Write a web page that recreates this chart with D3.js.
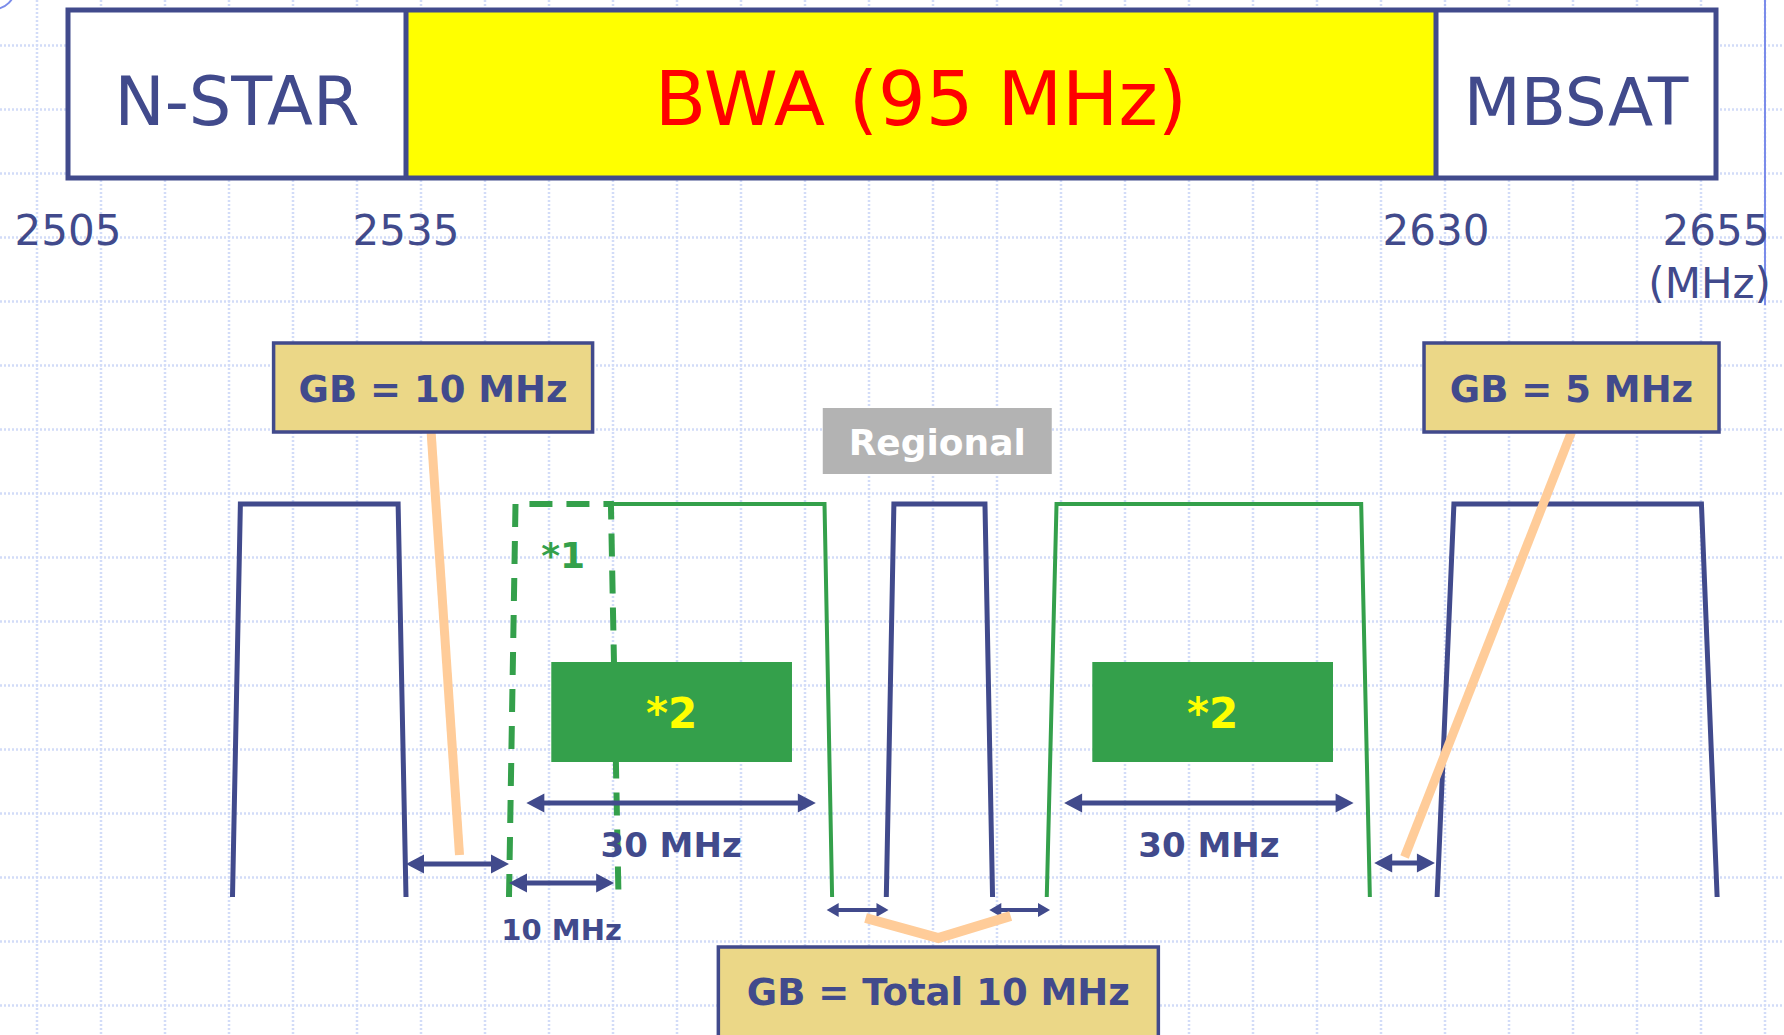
<!DOCTYPE html>
<html>
<head>
<meta charset="utf-8">
<script src="https://cdn.jsdelivr.net/npm/d3@7"></script>
<style>
  html, body { margin: 0; padding: 0; background: #fff; }
  svg { display: block; font-family: "DejaVu Sans", Verdana, sans-serif; }
</style>
</head>
<body>
<svg id="chart"></svg>
<script>
// band plan (MHz)
const bandEdges = [2505, 2535, 2630, 2655];
const bandNames = ["N-STAR", "BWA (95 MHz)", "MBSAT"];
const tickLabels = ["2505", "2535", "2630", "2655"];
const unitLabel = "(MHz)";

// filter masks: bottom-lo, top-lo, top-hi, bottom-hi (MHz)
const filterNames = ["N-STAR", "*1", "BWA 1", "Regional", "BWA 2", "MBSAT"];
const filterEdges = [
  [2519.6, 2520.3, 2534.3, 2535.0],
  [2544.5, 2545.1, 2553.9, 2554.6],
  [2553.9, 2553.9, 2573.6, 2574.3],
  [2579.3, 2580.0, 2588.4, 2589.1],
  [2594.1, 2595.0, 2623.1, 2623.9],
  [2630.1, 2631.6, 2653.7, 2655.1]
];
const filterKinds = ["navy", "dashed", "open", "navy", "green", "navy"];

// dimension arrows (MHz)
const spanNames = ["GB 10", "10 MHz", "30 MHz", "30 MHz", "GB a", "GB b", "GB 5"];
const spanFrom = [2535.0, 2544.5, 2546.1, 2595.7, 2573.8, 2588.8, 2624.3];
const spanTo   = [2544.5, 2554.2, 2572.8, 2622.4, 2579.5, 2594.4, 2629.9];
const spanText = ["", "10 MHz", "30 MHz", "30 MHz", "", "", ""];

// green "*2" blocks (MHz)
const blockFrom = [2548.4, 2598.3];
const blockTo = [2570.6, 2620.5];
const blockText = "*2";

// callouts
const calloutText = ["GB = 10 MHz", "GB = 5 MHz", "GB = Total 10 MHz"];
const calloutAt = [2537.5, 2642.1, 2584.1];
const regionalText = "Regional";
const regionalAt = 2584.0;

const W = 1784, H = 1035;
const navy = "#414a8c", green = "#34a04b", peach = "#ffcc99";

const svg = d3.select("#chart").attr("width", W).attr("height", H);

const x = d3.scaleLinear().domain(bandEdges).range([68, 406, 1436, 1716]);
const y = d3.scaleLinear().domain([0, 1]).range([897, 504]);

// background grid
const grid = svg.append("g").attr("stroke", "#d2dcf8").attr("stroke-width", 2.5).attr("stroke-dasharray", "2,2");
grid.selectAll("line.v").data(d3.range(37, W, 64)).join("line").attr("class", "v")
  .attr("x1", d => d).attr("x2", d => d).attr("y1", 0).attr("y2", H);
grid.selectAll("line.h").data(d3.range(45.5, H, 64)).join("line").attr("class", "h")
  .attr("x1", 0).attr("x2", W).attr("y1", d => d).attr("y2", d => d);

// slide decorations
svg.append("line").attr("x1", 1765).attr("x2", 1765).attr("y1", 0).attr("y2", 305)
  .attr("stroke", "#7b8cea").attr("stroke-width", 2);
svg.append("circle").attr("cx", -6).attr("cy", -12).attr("r", 21)
  .attr("fill", "none").attr("stroke", "#7b8cea").attr("stroke-width", 2);

// top band plan
const bandTop = 10, bandBot = 178;
const bands = svg.append("g");
bands.selectAll("rect").data(bandNames).join("rect")
  .attr("x", (d, i) => x(bandEdges[i]))
  .attr("width", (d, i) => x(bandEdges[i + 1]) - x(bandEdges[i]))
  .attr("y", bandTop).attr("height", bandBot - bandTop)
  .attr("fill", (d, i) => i === 1 ? "#ffff00" : "#fff");
bands.append("rect")
  .attr("x", x(bandEdges[0])).attr("y", bandTop)
  .attr("width", x(bandEdges[3]) - x(bandEdges[0])).attr("height", bandBot - bandTop)
  .attr("fill", "none").attr("stroke", navy).attr("stroke-width", 5);
bands.selectAll("line").data(bandEdges.slice(1, 3)).join("line")
  .attr("x1", d => x(d)).attr("x2", d => x(d)).attr("y1", bandTop).attr("y2", bandBot)
  .attr("stroke", navy).attr("stroke-width", 5);
const bandSize = [67, 75, 66];
bands.selectAll("text").data(bandNames).join("text")
  .attr("x", (d, i) => (x(bandEdges[i]) + x(bandEdges[i + 1])) / 2)
  .attr("y", 125).attr("text-anchor", "middle")
  .attr("font-size", (d, i) => bandSize[i])
  .attr("fill", (d, i) => i === 1 ? "#ff0000" : navy)
  .text(d => d);

// frequency ticks
svg.append("g").selectAll("text").data(tickLabels).join("text")
  .attr("x", (d, i) => x(bandEdges[i])).attr("y", 245)
  .attr("text-anchor", "middle").attr("font-size", 42).attr("fill", navy)
  .text(d => d);
svg.append("text").attr("x", x(2655) + 55).attr("y", 298)
  .attr("text-anchor", "end").attr("font-size", 42).attr("fill", navy)
  .text(unitLabel);

// filter masks
const maskPath = (e, kind) => {
  const p = d3.path();
  if (kind === "open") {
    p.moveTo(x(e[1]), y(1));
  } else {
    p.moveTo(x(e[0]), y(0));
    p.lineTo(x(e[1]), y(1));
  }
  p.lineTo(x(e[2]), y(1));
  p.lineTo(x(e[3]), y(0));
  return p.toString();
};
svg.append("g").selectAll("path").data(filterEdges).join("path")
  .attr("d", (d, i) => maskPath(d, filterKinds[i]))
  .attr("fill", "none")
  .attr("stroke", (d, i) => filterKinds[i] === "navy" ? navy : green)
  .attr("stroke-width", (d, i) => filterKinds[i] === "navy" ? 5 : filterKinds[i] === "dashed" ? 6 : 4)
  .attr("stroke-dasharray", (d, i) => filterKinds[i] === "dashed" ? "23,14" : null)
  .attr("stroke-linejoin", "miter");

// "*1" label
svg.append("text").attr("x", (x(filterEdges[1][1]) + x(filterEdges[1][2])) / 2).attr("y", 568)
  .attr("text-anchor", "middle").attr("font-size", 36).attr("font-weight", "bold")
  .attr("fill", green).text(filterNames[1]);

// "*2" blocks
const blocks = svg.append("g");
blocks.selectAll("rect").data(blockFrom).join("rect")
  .attr("x", (d) => x(d)).attr("width", (d, i) => x(blockTo[i]) - x(d))
  .attr("y", 662).attr("height", 100).attr("fill", green);
blocks.selectAll("text").data(blockFrom).join("text")
  .attr("x", (d, i) => (x(d) + x(blockTo[i])) / 2).attr("y", 728)
  .attr("text-anchor", "middle").attr("font-size", 42).attr("font-weight", "bold")
  .attr("fill", "#ffff00").text(blockText);

// dimension arrows
const spanY = [864, 883, 803, 803, 910, 910, 863];
const small = [false, false, false, false, true, true, false];
const arrowPath = (x1, x2, yy, L, h, w) => {
  const p = d3.path();
  p.moveTo(x1, yy);
  p.lineTo(x1 + L, yy - h); p.lineTo(x1 + L, yy - w / 2);
  p.lineTo(x2 - L, yy - w / 2); p.lineTo(x2 - L, yy - h);
  p.lineTo(x2, yy);
  p.lineTo(x2 - L, yy + h); p.lineTo(x2 - L, yy + w / 2);
  p.lineTo(x1 + L, yy + w / 2); p.lineTo(x1 + L, yy + h);
  p.closePath();
  return p.toString();
};
const arrows = svg.append("g");
arrows.selectAll("path").data(spanNames).join("path")
  .attr("d", (d, i) => small[i]
    ? arrowPath(x(spanFrom[i]), x(spanTo[i]), spanY[i], 12, 7, 4)
    : arrowPath(x(spanFrom[i]), x(spanTo[i]), spanY[i], 18, 9.5, 5))
  .attr("fill", navy);
const spanLabelY = [0, 940, 857, 857, 0, 0, 0];
const spanLabelSize = [0, 29, 34, 34, 0, 0, 0];
const labelled = d3.range(spanText.length).filter(i => spanText[i]);
arrows.selectAll("text").data(labelled).join("text")
  .attr("x", i => (x(spanFrom[i]) + x(spanTo[i])) / 2)
  .attr("y", i => spanLabelY[i])
  .attr("text-anchor", "middle").attr("font-weight", "bold")
  .attr("font-size", i => spanLabelSize[i])
  .attr("fill", navy).text(i => spanText[i]);

// leader lines
const mid = i => (x(spanFrom[i]) + x(spanTo[i])) / 2;
const leaders = svg.append("g").attr("stroke", peach).attr("stroke-width", 9).attr("fill", "none");
leaders.append("line")
  .attr("x1", x(calloutAt[0]) - 2).attr("y1", 432).attr("x2", mid(0) + 2).attr("y2", 855);
leaders.append("line")
  .attr("x1", x(calloutAt[1])).attr("y1", 432).attr("x2", mid(6)).attr("y2", 857);
leaders.append("path")
  .attr("stroke-width", 10)
  .attr("d", `M${mid(4) + 8},918 L${x(calloutAt[2])},938 L${mid(5) - 9},916`);

// callout boxes
const calloutW = [319, 295, 440];
const calloutTop = [343, 343, 947];
const calloutH = [89, 89, 100];
const calloutY = [402, 402, 1005];
const callouts = svg.append("g");
callouts.selectAll("rect").data(calloutText).join("rect")
  .attr("x", (d, i) => x(calloutAt[i]) - calloutW[i] / 2)
  .attr("y", (d, i) => calloutTop[i])
  .attr("width", (d, i) => calloutW[i]).attr("height", (d, i) => calloutH[i])
  .attr("fill", "#ebd787").attr("stroke", navy).attr("stroke-width", 3.5);
callouts.selectAll("text").data(calloutText).join("text")
  .attr("x", (d, i) => x(calloutAt[i])).attr("y", (d, i) => calloutY[i])
  .attr("text-anchor", "middle").attr("font-size", 37).attr("font-weight", "bold")
  .attr("fill", navy).text(d => d);

// regional tag
svg.append("rect").attr("x", x(regionalAt) - 114.5).attr("y", 408)
  .attr("width", 229).attr("height", 66).attr("fill", "#b3b3b3");
svg.append("text").attr("x", x(regionalAt)).attr("y", 455)
  .attr("text-anchor", "middle").attr("font-size", 36).attr("font-weight", "bold")
  .attr("fill", "#fff").text(regionalText);
</script>
</body>
</html>
